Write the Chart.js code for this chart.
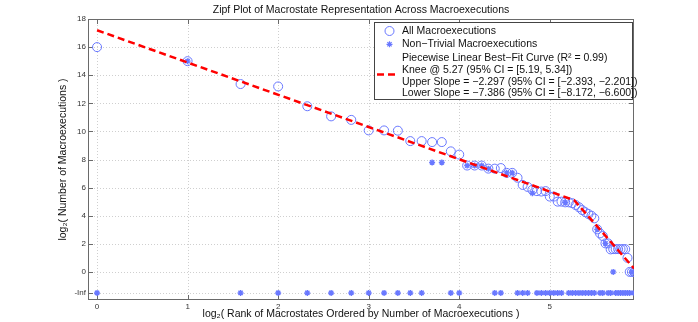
<!DOCTYPE html>
<html>
<head>
<meta charset="utf-8">
<script src="https://cdn.jsdelivr.net/npm/chart.js@4.4.0/dist/chart.umd.min.js"></script>
<style>
  html, body { margin: 0; padding: 0; background: #fff; }
  #wrap { width: 698px; height: 322px; }
</style>
</head>
<body>
<div id="wrap"><canvas id="chart" width="698" height="322"></canvas></div>
<script>
// log2 of the number of macroexecutions per macrostate, by rank 1..61
const allCounts = [
    16, 15, 13.37, 13.2, 11.79, 11.07, 10.82, 10.07, 10.07, 10.05,
    9.31, 9.31, 9.24, 9.24, 8.58, 8.35, 7.57, 7.57, 7.57, 7.35,
    7.35, 7.39, 7.05, 7.05, 6.7, 6.19, 6.05, 5.84, 5.75, 5.72,
    5.75, 5.36, 5.36, 5.0, 5.0, 4.95, 4.95, 4.89, 4.76, 4.6,
    4.4, 4.25, 4.12, 4.0, 3.81, 3.03, 2.74, 2.55, 2.03, 2.03,
    1.6, 1.62, 1.62, 1.62, 1.62, 1.62, 1.62, 1.0, 0, 0,
    0
];

// non-trivial macroexecutions, null = log2(0) = -Inf
const nonTrivialCounts = [
    null, 15, null, null, null, null, null, null, null, null,
    null, null, 7.79, 7.79, null, null, 7.57, 7.57, 7.57, 7.35,
    null, null, 7.05, 7.05, null, null, null, 5.6, null, null,
    null, null, null, null, null, 4.95, null, null, null, null,
    null, null, null, null, null, 3.03, null, null, 2.03, null,
    null, 0, null, null, null, null, null, null, null, 0,
    null
];

// piecewise linear fit (knee @ 5.27)
const fitX = [0, 5.27, 5.93];
const fitY = [17.2, 5.1, 0.25];

const xTickValues = [0, 1, 2, 3, 4, 5];
const yTickValues = [-1.5, 0, 2, 4, 6, 8, 10, 12, 14, 16, 18];
const yTickLabels = ['-Inf', '0', '2', '4', '6', '8', '10', '12', '14', '16', '18'];
const NEG_INF_Y = -1.5;

const titleText = 'Zipf Plot of Macrostate Representation Across Macroexecutions';
const xTitle = 'log\u2082( Rank of Macrostates Ordered by Number of Macroexecutions )';
const yTitle = 'log\u2082( Number of Macroexecutions )';
const legendLabels = [
    'All Macroexecutions',
    'Non\u2212Trivial Macroexecutions',
    'Piecewise Linear Best\u2212Fit Curve (R\u00b2 = 0.99)',
    'Knee @ 5.27 (95% CI = [5.19, 5.34])',
    'Upper Slope = \u22122.297 (95% CI = [\u22122.393, \u22122.201])',
    'Lower Slope = \u22127.386 (95% CI = [\u22128.172, \u22126.600])'
];

const FONT = '"Liberation Sans", Arial, Helvetica, sans-serif';
const BLUE = 'rgb(105, 120, 255)';
const RED = '#ff0000';

const allPoints = allCounts.map((v, i) => ({ x: Math.log2(i + 1), y: v }));
const nonTrivialPoints = nonTrivialCounts.map((v, i) => ({ x: Math.log2(i + 1), y: v === null ? NEG_INF_Y : v }));
const fitPoints = fitX.map((v, i) => ({ x: v, y: fitY[i] }));

// grid, box, inward tick marks, title and legend (MATLAB look)
const framePlugin = {
    id: 'frame',
    beforeDatasetsDraw(chart) {
        const { ctx, chartArea: a, scales: { x, y } } = chart;
        ctx.save();
        ctx.lineWidth = 1;
        ctx.strokeStyle = '#cfcfcf';
        ctx.setLineDash([1, 2]);
        ctx.beginPath();
        xTickValues.forEach(v => {
            const px = Math.round(x.getPixelForValue(v)) + 0.5;
            ctx.moveTo(px, a.top); ctx.lineTo(px, a.bottom);
        });
        yTickValues.forEach(v => {
            const py = Math.round(y.getPixelForValue(v)) + 0.5;
            ctx.moveTo(a.left, py); ctx.lineTo(a.right, py);
        });
        ctx.stroke();
        ctx.setLineDash([]);

        ctx.strokeStyle = '#6a6a6a';
        ctx.strokeRect(Math.round(a.left) + 0.5, Math.round(a.top) + 0.5,
            Math.round(a.width) - 1, Math.round(a.height) - 1);

        ctx.beginPath();
        xTickValues.forEach(v => {
            const px = Math.round(x.getPixelForValue(v)) + 0.5;
            ctx.moveTo(px, a.bottom); ctx.lineTo(px, a.bottom - 5);
            ctx.moveTo(px, a.top); ctx.lineTo(px, a.top + 5);
        });
        yTickValues.forEach(v => {
            const py = Math.round(y.getPixelForValue(v)) + 0.5;
            ctx.moveTo(a.left, py); ctx.lineTo(a.left + 5, py);
            ctx.moveTo(a.right, py); ctx.lineTo(a.right - 5, py);
        });
        ctx.stroke();
        ctx.restore();
    },
    afterDraw(chart) {
        const { ctx, chartArea: a } = chart;
        ctx.save();
        ctx.fillStyle = '#111';
        ctx.font = '10.5px ' + FONT;
        ctx.textAlign = 'center';
        ctx.textBaseline = 'middle';
        ctx.fillText(titleText, (a.left + a.right) / 2, 10);

        // legend box
        const bx = 374.5, by = 22.5, bw = 258, bh = 77;
        ctx.fillStyle = '#fff';
        ctx.fillRect(bx, by, bw, bh);
        ctx.strokeStyle = '#444';
        ctx.lineWidth = 1;
        ctx.strokeRect(bx, by, bw, bh);

        const textX = 402;
        const rows = [31, 44.3, 58.3, 70, 81.7, 93.3];
        ctx.fillStyle = '#111';
        ctx.textAlign = 'left';
        legendLabels.forEach((t, i) => ctx.fillText(t, textX, rows[i]));

        // circle marker
        ctx.strokeStyle = BLUE;
        ctx.beginPath();
        ctx.arc(389.5, rows[0], 4.5, 0, Math.PI * 2);
        ctx.stroke();
        // asterisk marker
        ctx.lineWidth = 1.2;
        ctx.beginPath();
        const cx = 389.5, cy = rows[1], r = 3;
        for (let k = 0; k < 4; k++) {
            const ang = k * Math.PI / 4;
            ctx.moveTo(cx - r * Math.cos(ang), cy - r * Math.sin(ang));
            ctx.lineTo(cx + r * Math.cos(ang), cy + r * Math.sin(ang));
        }
        ctx.stroke();
        // dashed fit line
        ctx.strokeStyle = RED;
        ctx.lineWidth = 2.5;
        ctx.setLineDash([7, 4]);
        ctx.beginPath();
        ctx.moveTo(377, 74.5);
        ctx.lineTo(399, 74.5);
        ctx.stroke();
        ctx.restore();
    }
};

new Chart(document.getElementById('chart'), {
    type: 'scatter',
    data: {
        datasets: [
            {
                type: 'line',
                label: 'Piecewise Linear Best-Fit Curve',
                data: fitPoints,
                borderColor: RED,
                borderWidth: 2.5,
                borderDash: [7, 4],
                pointRadius: 0,
                fill: false
            },
            {
                label: 'Non-Trivial Macroexecutions',
                data: nonTrivialPoints,
                pointStyle: 'star',
                radius: 3,
                borderColor: BLUE,
                borderWidth: 1.4,
                backgroundColor: 'transparent'
            },
            {
                label: 'All Macroexecutions',
                data: allPoints,
                pointStyle: 'circle',
                radius: 4.5,
                borderColor: BLUE,
                borderWidth: 1,
                backgroundColor: 'transparent'
            }
        ]
    },
    options: {
        responsive: false,
        animation: false,
        devicePixelRatio: 1,
        layout: { padding: { left: 50, right: 64, top: 19, bottom: 0 } },
        plugins: {
            legend: { display: false },
            tooltip: { enabled: false },
            title: { display: false }
        },
        scales: {
            x: {
                type: 'linear',
                min: -0.1,
                max: 5.93,
                grid: { display: false, drawTicks: false, tickLength: 0 },
                border: { display: false },
                afterBuildTicks: scale => { scale.ticks = xTickValues.map(v => ({ value: v })); },
                afterFit: scale => { scale.height = 22; },
                ticks: {
                    autoSkip: false,
                    maxRotation: 0,
                    padding: 2,
                    color: '#333',
                    font: { family: FONT, size: 8 },
                    callback: v => String(v)
                },
                title: {
                    display: true,
                    text: xTitle,
                    color: '#111',
                    font: { family: FONT, size: 10.5 },
                    padding: { top: 0, bottom: 2 }
                }
            },
            y: {
                type: 'linear',
                min: -2,
                max: 18,
                grid: { display: false, drawTicks: false, tickLength: 0 },
                border: { display: false },
                afterBuildTicks: scale => { scale.ticks = yTickValues.map(v => ({ value: v })); },
                afterFit: scale => { scale.width = 38; },
                ticks: {
                    autoSkip: false,
                    padding: 2,
                    color: '#333',
                    font: { family: FONT, size: 8 },
                    callback: v => yTickLabels[yTickValues.indexOf(v)]
                },
                title: {
                    display: true,
                    text: yTitle,
                    color: '#111',
                    font: { family: FONT, size: 10.5 },
                    padding: { top: 7, bottom: 0 }
                }
            }
        }
    },
    plugins: [framePlugin]
});
</script>
</body>
</html>
